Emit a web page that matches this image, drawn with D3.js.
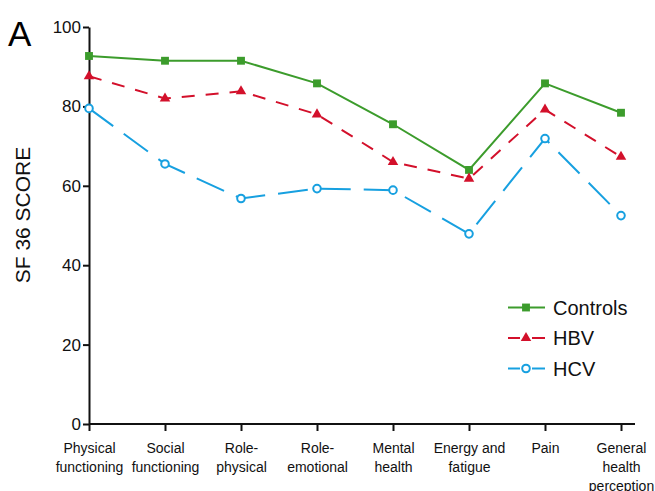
<!DOCTYPE html>
<html>
<head>
<meta charset="utf-8">
<script src="https://cdn.jsdelivr.net/npm/d3@7"></script>
<style>
  body { margin: 0; background: #fff; }
  svg { font-family: "Liberation Sans", Arial, sans-serif; }
</style>
</head>
<body>
<div id="chart"></div>
<script>
// categories (multi-line labels split by "|")
const categories = ["Physical|functioning", "Social|functioning", "Role-|physical", "Role-|emotional",
                    "Mental|health", "Energy and|fatigue", "Pain", "General|health|perception"];
const yTicks = [0, 20, 40, 60, 80, 100];

const controls = [92.7, 91.5, 91.5, 85.8, 75.5, 64.0, 85.8, 78.4];
const hbv      = [87.6, 82.0, 83.8, 78.0, 66.0, 61.8, 79.2, 67.3];
const hcv      = [79.5, 65.5, 56.8, 59.3, 58.9, 47.9, 71.9, 52.5];

const seriesNames = ["Controls", "HBV", "HCV"];

//define svg size
const width = 655;
const height = 491;
const padding = { left: 89, top: 27, bottom: 424, right: 621 };

const green = "#3c9c2c", red = "#d3102b", blue = "#17a0e0";

const series = [
    { name: seriesNames[0], values: controls, color: green, dash: null, shape: "square" },
    { name: seriesNames[1], values: hbv, color: red, dash: "13,11", shape: "triangle" },
    { name: seriesNames[2], values: hcv, color: blue, dash: "30,13", shape: "circle" }
];

const svg = d3.select("#chart")
    .append("svg")
    .attr("width", width)
    .attr("height", height);

//create Scales
const xScale = d3.scalePoint()
    .domain(categories)
    .range([padding.left, padding.right]);

const yScale = d3.scaleLinear()
    .domain([0, 100])
    .range([padding.bottom, padding.top]);

// Axes
const yAxis = d3.axisLeft(yScale).tickValues(yTicks).tickSize(6).tickSizeOuter(0).tickPadding(2);
const gy = svg.append("g")
    .attr("transform", "translate(" + padding.left + ",0)")
    .call(yAxis);
gy.selectAll("text").style("font-size", "17px").attr("fill", "#111");

const xAxis = d3.axisBottom(xScale).tickSize(7).tickSizeOuter(0).tickFormat("");
const gx = svg.append("g")
    .attr("transform", "translate(0," + padding.bottom + ")")
    .call(xAxis);
// axis line runs a bit past the last category
gx.select(".domain").attr("d", "M" + padding.left + ",0H" + (padding.right + 14));

gx.selectAll(".tick").append("text")
    .attr("text-anchor", "middle")
    .attr("fill", "#111")
    .style("font-size", "14px")
    .selectAll("tspan")
    .data(d => d.split("|"))
    .enter().append("tspan")
    .attr("x", 0)
    .attr("y", (d, i) => 29 + i * 19)
    .text(d => d);

svg.selectAll(".domain, .tick line").attr("stroke", "#111").attr("stroke-width", 2);

// lines
const line = d3.line()
    .x((d, i) => xScale(categories[i]))
    .y(d => yScale(d));

const marker = (g, s, x, y) => {
    if (s.shape === "circle") {
        g.append("circle").attr("cx", x).attr("cy", y).attr("r", 3.8)
            .attr("fill", "#fff").attr("stroke", s.color).attr("stroke-width", 2);
    } else {
        const sym = s.shape === "square" ? d3.symbolSquare : d3.symbolTriangle;
        const size = s.shape === "square" ? 62 : 48;
        g.append("path").attr("d", d3.symbol().type(sym).size(size)())
            .attr("transform", "translate(" + x + "," + y + ")")
            .attr("fill", s.color);
    }
};

series.forEach(s => {
    svg.append("path")
        .datum(s.values)
        .attr("d", line)
        .attr("fill", "none")
        .attr("stroke", s.color)
        .attr("stroke-width", 2)
        .attr("stroke-dasharray", s.dash);
});
series.forEach(s => {
    const g = svg.append("g");
    s.values.forEach((v, i) => marker(g, s, xScale(categories[i]), yScale(v)));
});

// legend
series.forEach((s, i) => {
    const ly = 307.5 + i * 30.5;
    const g = svg.append("g");
    if (s.dash) {
        g.append("line").attr("x1", 508).attr("x2", 520).attr("y1", ly).attr("y2", ly)
            .attr("stroke", s.color).attr("stroke-width", 2);
        g.append("line").attr("x1", 532).attr("x2", 545).attr("y1", ly).attr("y2", ly)
            .attr("stroke", s.color).attr("stroke-width", 2);
    } else {
        g.append("line").attr("x1", 508).attr("x2", 545).attr("y1", ly).attr("y2", ly)
            .attr("stroke", s.color).attr("stroke-width", 2);
    }
    marker(g, s, 526, ly);
    g.append("text").attr("x", 553).attr("y", ly + 7)
        .style("font-size", "20px").attr("fill", "#111").text(s.name);
});

// axis title
svg.append("text")
    .attr("transform", "translate(30,215) rotate(-90)")
    .attr("text-anchor", "middle")
    .style("font-size", "21px")
    .attr("fill", "#111")
    .text("SF 36 SCORE");

// panel letter
svg.append("text")
    .attr("x", 8)
    .attr("y", 46)
    .style("font-size", "35px")
    .attr("fill", "#000")
    .text("A");
</script>
</body>
</html>
